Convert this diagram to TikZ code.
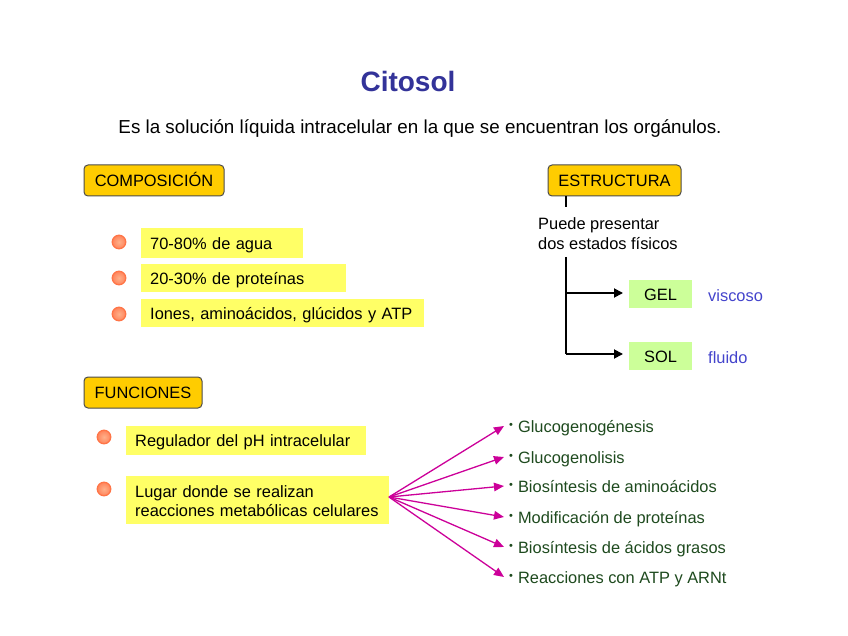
\documentclass[tikz,border=0pt]{standalone}
\usepackage{fontspec}
\setmainfont{Liberation Sans}
\usetikzlibrary{arrows.meta,shadings}
\definecolor{titleblue}{HTML}{333399}
\definecolor{headfill}{HTML}{FFCC00}
\definecolor{yfill}{HTML}{FFFF66}
\definecolor{gfill}{HTML}{CCFF99}
\definecolor{violetb}{HTML}{4444CC}
\definecolor{magarrow}{HTML}{CC0099}
\definecolor{dgreen}{HTML}{1E4A1E}
\definecolor{borange}{HTML}{FF6633}
\definecolor{lorange}{HTML}{FFB08A}
\tikzset{
  x=1pt, y=-1pt,
  every node/.style={font=\fontsize{16.4}{19}\selectfont, inner sep=0pt},
  tl/.style={text height=13.5pt, text depth=1pt},
  headbox/.style={tl, draw=black!70, line width=1pt, fill=headfill, rounded corners=4pt, minimum height=31pt, inner xsep=10pt},
  ybox/.style={fill=yfill, anchor=west, align=left, inner xsep=9pt},
  gbox/.style={tl, fill=gfill, minimum width=63pt, minimum height=28pt},
  bul/.style={circle, minimum size=13.5pt, inner sep=0pt, draw=borange!90, line width=1.3pt, inner color=lorange, outer color=borange!80},
  item/.style={tl, anchor=west, text=dgreen},
  marr/.style={draw=magarrow, line width=1.3pt, -{Triangle[length=10pt,width=8.5pt]}},
  barr/.style={draw=black, line width=1.8pt, -{Triangle[length=9pt,width=9pt]}},
}
\newcommand{\bdot}{\raisebox{3.5pt}{\fontsize{11}{11}\selectfont\textbullet}\hspace{5pt}}
\begin{document}
\begin{tikzpicture}
\useasboundingbox (0,0) rectangle (848,636);
\fill[white] (0,0) rectangle (848,636);

\node[font=\fontsize{28}{30}\selectfont\bfseries, text=titleblue] (title) at (408,81) {Citosol};
\node[tl, font=\fontsize{18.8}{21}\selectfont] (sub) at (420,127) {Es la solución líquida intracelular en la que se encuentran los orgánulos.};

% COMPOSICION
\node[headbox, minimum width=140pt] (comp) at (154,180.5) {COMPOSICIÓN};
\node[bul] (b1) at (119,242) {};
\node[bul] (b2) at (119,278) {};
\node[bul] (b3) at (119,314) {};
\node[ybox, tl, text width=144pt, minimum height=30pt] (c1) at (141,243) {70-80\% de agua};
\node[ybox, tl, text width=187pt, minimum height=28pt] (c2) at (141,278) {20-30\% de proteínas};
\node[ybox, tl, text width=265pt, minimum height=28pt] (c3) at (141,313) {Iones, aminoácidos, glúcidos y ATP};

% ESTRUCTURA
\node[headbox, minimum width=133pt] (estr) at (614.5,180.5) {ESTRUCTURA};
\node[anchor=north west, align=left, font=\fontsize{16.4}{20}\selectfont] (puede) at (538,217) {Puede presentar\\dos estados físicos};
\coordinate (e1) at (566,196);
\coordinate (e2) at (566,207);
\coordinate (p1) at (566,257);
\coordinate (pg) at (566,293);
\coordinate (ps) at (566,354);
\node[gbox] (gel) at (660.5,294) {GEL};
\node[gbox] (sol) at (660.5,356) {SOL};
\node[tl, anchor=west, text=violetb] (visc) at (708,295) {viscoso};
\node[tl, anchor=west, text=violetb] (flu) at (708,357) {fluido};
\draw[line width=1.8pt] (e1) -- (e2);
\draw[line width=1.8pt] (p1) -- (ps);
\draw[barr] (pg) -- (623,293);
\draw[barr] (ps) -- (623,354);

% FUNCIONES
\node[headbox, minimum width=118pt] (func) at (143,392.5) {FUNCIONES};
\node[bul] (b4) at (104,437) {};
\node[bul] (b5) at (104,489) {};
\node[ybox, tl, text width=222pt, minimum height=29pt] (f1) at (126,440.5) {Regulador del pH intracelular};
\node[ybox, text width=245pt, minimum height=48pt] (f2) at (126,500) {\rule{0pt}{14pt}Lugar donde se realizan\\reacciones metabólicas celulares};

\node[item] (i1) at (509,426) {\bdot Glucogenogénesis};
\node[item] (i2) at (509,457) {\bdot Glucogenolisis};
\node[item] (i3) at (509,486) {\bdot Biosíntesis de aminoácidos};
\node[item] (i4) at (509,517) {\bdot Modificación de proteínas};
\node[item] (i5) at (509,547) {\bdot Biosíntesis de ácidos grasos};
\node[item] (i6) at (509,577) {\bdot Reacciones con ATP y ARNt};
\coordinate (src) at (389,497);
\foreach \n in {i1,i2,i3,i4,i5,i6} {
  \draw[marr] (src) -- ([xshift=-5pt]\n.west);
}
\end{tikzpicture}
\end{document}
